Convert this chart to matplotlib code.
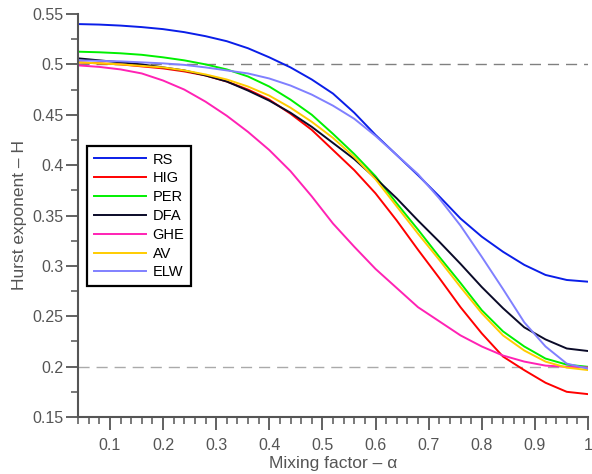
import matplotlib.pyplot as plt
from matplotlib.ticker import MultipleLocator

alpha = [0.04, 0.08, 0.12, 0.16, 0.20, 0.24, 0.28, 0.32, 0.36, 0.40, 0.44, 0.48, 0.52,
         0.56, 0.60, 0.64, 0.68, 0.72, 0.76, 0.80, 0.84, 0.88, 0.92, 0.96, 1.00]

rs = [0.540, 0.5395, 0.5385, 0.537, 0.535, 0.532, 0.528, 0.523, 0.516, 0.507, 0.497, 0.485, 0.471,
      0.452, 0.430, 0.410, 0.390, 0.369, 0.347, 0.329, 0.314, 0.301, 0.291, 0.286, 0.2843]
hig = [0.502, 0.501, 0.500, 0.498, 0.496, 0.493, 0.489, 0.483, 0.475, 0.465, 0.451, 0.435, 0.415,
       0.395, 0.372, 0.345, 0.316, 0.288, 0.259, 0.233, 0.210, 0.1965, 0.184, 0.175, 0.1727]
per = [0.5126, 0.512, 0.511, 0.5095, 0.507, 0.504, 0.500, 0.495, 0.488, 0.478, 0.465, 0.450, 0.431,
       0.411, 0.389, 0.362, 0.336, 0.309, 0.283, 0.256, 0.235, 0.220, 0.208, 0.202, 0.1998]
dfa = [0.506, 0.504, 0.502, 0.500, 0.497, 0.494, 0.489, 0.483, 0.474, 0.464, 0.452, 0.438, 0.422,
       0.406, 0.387, 0.367, 0.345, 0.324, 0.302, 0.279, 0.258, 0.239, 0.227, 0.218, 0.2155]
ghe = [0.499, 0.4975, 0.495, 0.491, 0.484, 0.475, 0.463, 0.449, 0.433, 0.415, 0.394, 0.369, 0.342,
       0.319, 0.297, 0.278, 0.259, 0.245, 0.231, 0.220, 0.211, 0.205, 0.201, 0.1998, 0.1992]
av = [0.502, 0.501, 0.500, 0.4985, 0.497, 0.494, 0.490, 0.485, 0.478, 0.469, 0.457, 0.443, 0.427,
      0.408, 0.386, 0.359, 0.332, 0.306, 0.279, 0.253, 0.231, 0.216, 0.205, 0.199, 0.1966]
elw = [0.504, 0.5035, 0.503, 0.502, 0.501, 0.4995, 0.497, 0.494, 0.491, 0.486, 0.479, 0.470, 0.459,
       0.446, 0.429, 0.410, 0.391, 0.367, 0.340, 0.309, 0.277, 0.244, 0.220, 0.203, 0.198]

series = [("RS", rs, "#0a1ee8"), ("HIG", hig, "#ff0000"), ("PER", per, "#00f000"),
          ("DFA", dfa, "#0a0a28"), ("GHE", ghe, "#ff22b4"), ("AV", av, "#ffcc00"),
          ("ELW", elw, "#8080ff")]

grey = "#555555"
plt.rcParams["font.family"] = ["Liberation Sans", "DejaVu Sans"]

fig = plt.figure(figsize=(5.92, 4.74), dpi=100)
ax = fig.add_axes([78 / 592, 1 - 417 / 474, 510 / 592, 403 / 474])

ax.axhline(0.5, color="#808080", lw=1, dashes=(8, 5), zorder=1)
ax.axhline(0.2, color="#aaaaaa", lw=1, dashes=(8, 5), zorder=1)

for name, vals, col in series:
    ax.plot(alpha, vals, color=col, lw=1.4, label=name)

ax.set_xlim(0.04, 1.0)
ax.set_ylim(0.15, 0.55)
ax.xaxis.set_minor_locator(MultipleLocator(0.02))
ax.yaxis.set_minor_locator(MultipleLocator(0.025))
ax.set_xticks([0.1, 0.2, 0.3, 0.4, 0.5, 0.6, 0.7, 0.8, 0.9, 1.0])
ax.set_xticklabels(["0.1", "0.2", "0.3", "0.4", "0.5", "0.6", "0.7", "0.8", "0.9", "1"])
ax.set_yticks([0.15, 0.2, 0.25, 0.3, 0.35, 0.4, 0.45, 0.5, 0.55])
ax.set_yticklabels(["0.15", "0.2", "0.25", "0.3", "0.35", "0.4", "0.45", "0.5", "0.55"])

for side in ["top", "right"]:
    ax.spines[side].set_visible(False)
for side in ["left", "bottom"]:
    ax.spines[side].set_color(grey)
    ax.spines[side].set_linewidth(1.5)

ax.tick_params(which="major", direction="out", length=9, width=1.3, colors=grey,
               labelsize=11.5, labelcolor=grey)
ax.tick_params(which="minor", direction="out", length=5, width=1.1, colors=grey)
ax.tick_params(axis="x", pad=6)
ax.tick_params(axis="y", pad=1.5)

ax.set_xlabel("Mixing factor – α", fontsize=12.5, color=grey, labelpad=2)
ax.set_ylabel("Hurst exponent – H", fontsize=12.5, color=grey, labelpad=4)

leg = ax.legend(loc="upper left", bbox_to_anchor=(0.0176, 0.6725), borderaxespad=0,
                fontsize=10.5, handlelength=3.6, labelspacing=0.33, handletextpad=0.45,
                borderpad=0.45, fancybox=False, framealpha=1, edgecolor="black")
leg.get_frame().set_linewidth(1.6)

fig.savefig("out.png", dpi=100)
